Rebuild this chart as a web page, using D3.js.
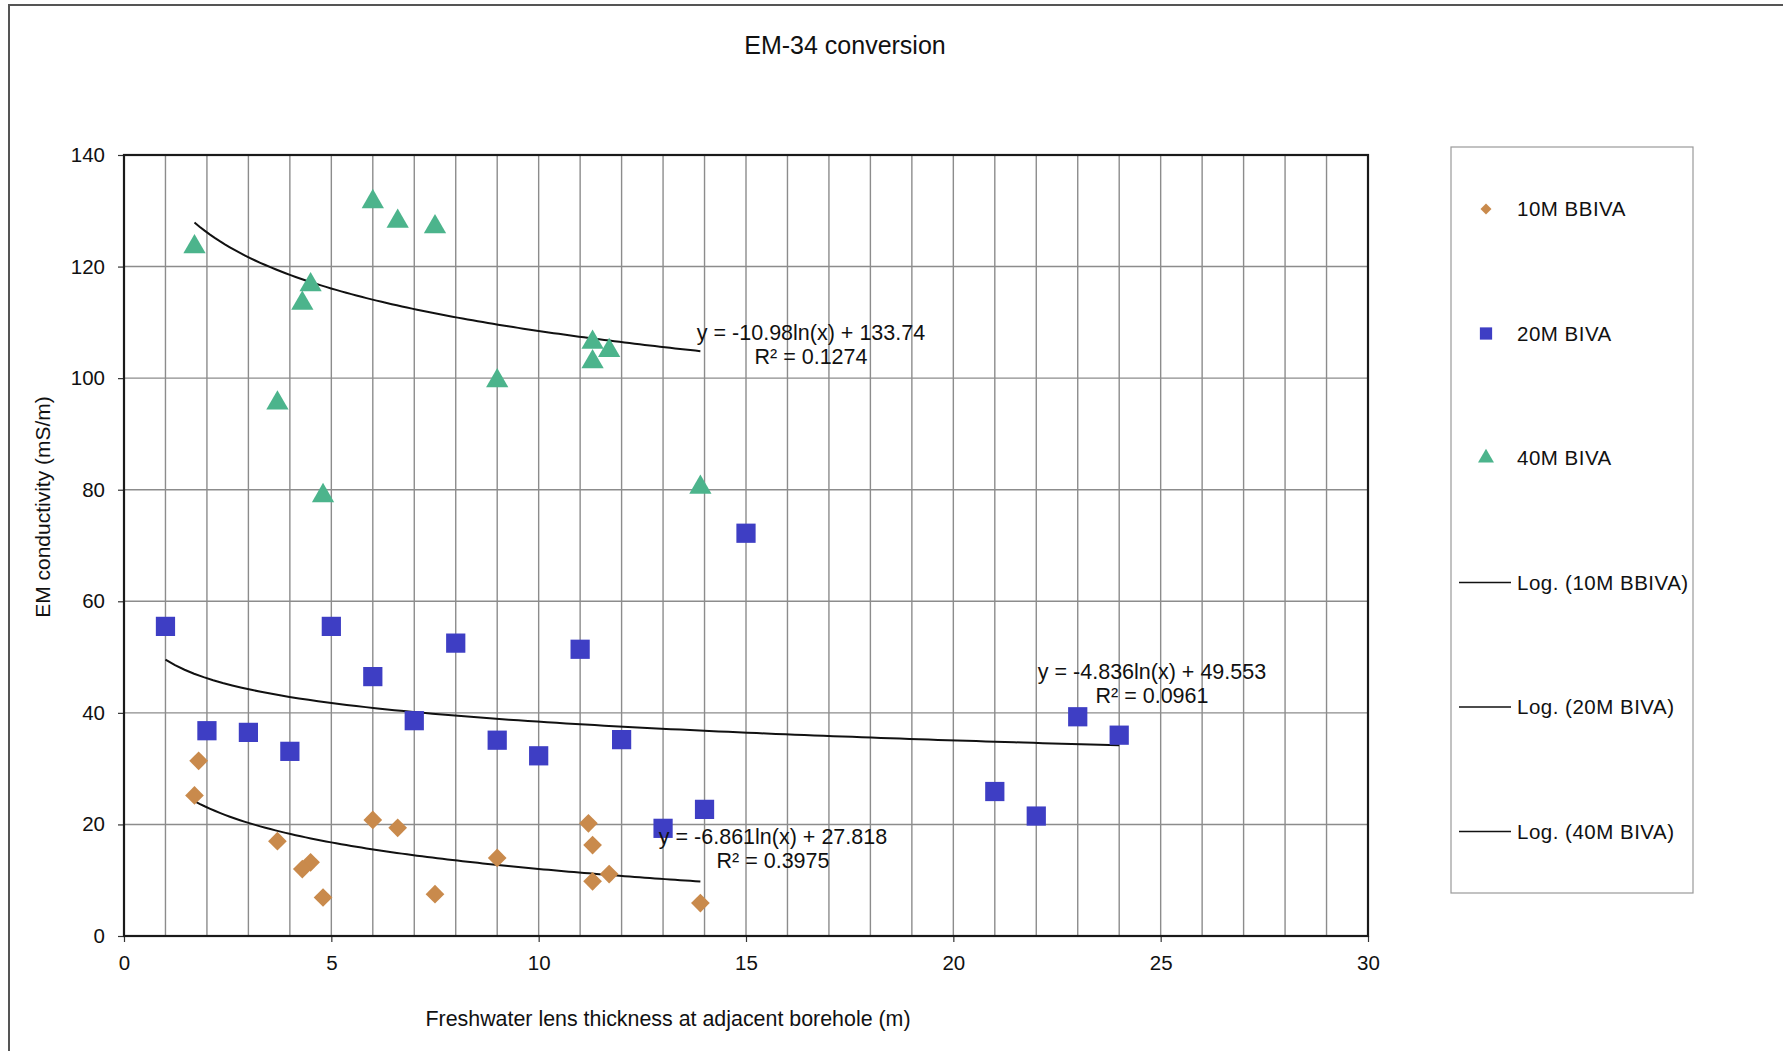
<!DOCTYPE html>
<html>
<head>
<meta charset="utf-8">
<script src="https://cdn.jsdelivr.net/npm/d3@7"></script>
<style>
body { margin: 0; background: #fff; }
svg text { font-family: "Liberation Sans", Arial, sans-serif; fill: #111; }
</style>
</head>
<body>
<div id="chart"></div>
<script>
var width = 1783, height = 1051;
var margin = {left: 124, right: 1368, top: 155, bottom: 936};

// 10M BBIVA
var bbiva10x = [1.8, 1.7, 6, 6.6, 3.7, 4.5, 4.3, 4.8, 7.5, 9, 11.2, 11.3, 11.7, 11.3, 13.9];
var bbiva10y = [31.4, 25.2, 20.8, 19.4, 17.0, 13.2, 12.0, 6.9, 7.5, 14.0, 20.2, 16.3, 11.1, 9.8, 5.9];
// 20M BIVA
var biva20x = [1, 5, 8, 11, 6, 7, 2, 3, 4, 9, 10, 12, 14, 13, 15, 21, 22, 23, 24];
var biva20y = [55.5, 55.5, 52.5, 51.4, 46.5, 38.6, 36.8, 36.5, 33.1, 35.1, 32.3, 35.2, 22.7, 19.3, 72.2, 25.9, 21.5, 39.3, 36.0];
// 40M BIVA
var biva40x = [1.7, 6, 6.6, 7.5, 4.5, 4.3, 3.7, 4.8, 9, 11.3, 11.7, 11.3, 13.9];
var biva40y = [124.1, 132.2, 128.7, 127.7, 117.3, 114.0, 96.1, 79.5, 100.1, 107.0, 105.5, 103.5, 81.0];

// trendline coefficients (a*ln(x) + b) as printed on the chart
var seriesNames = ["10M BBIVA", "20M BIVA", "40M BIVA"];
var trendA = [-6.861, -4.836, -10.98];
var trendB = [27.818, 49.553, 133.74];
var trendR2 = ["0.3975", "0.0961", "0.1274"];

var xTicks = [0, 5, 10, 15, 20, 25, 30];
var yTicks = [0, 20, 40, 60, 80, 100, 120, 140];

var colors = ["#c98a4c", "#3e3ec4", "#4cb48c"];

var svg = d3.select("#chart").append("svg")
	.attr("width", width)
	.attr("height", height);

// outer frame
svg.append("rect")
	.attr("x", 9).attr("y", 5)
	.attr("width", width + 20).attr("height", height + 20)
	.style("fill", "none").style("stroke", "#555").style("stroke-width", 2);

var x = d3.scaleLinear().domain([0, 30]).range([margin.left, margin.right]);
var y = d3.scaleLinear().domain([0, 140]).range([margin.bottom, margin.top]);

// grid
svg.append("g").selectAll("line")
	.data(d3.range(1, 30))
	.enter().append("line")
	.attr("x1", function (d) { return x(d); })
	.attr("x2", function (d) { return x(d); })
	.attr("y1", y(0)).attr("y2", y(140))
	.style("stroke", "#8c8c8c").style("stroke-width", 1.4);

svg.append("g").selectAll("line")
	.data(yTicks.slice(1, -1))
	.enter().append("line")
	.attr("y1", function (d) { return y(d); })
	.attr("y2", function (d) { return y(d); })
	.attr("x1", x(0)).attr("x2", x(30))
	.style("stroke", "#8c8c8c").style("stroke-width", 1.4);

// axes
var xAxis = svg.append("g")
	.attr("transform", "translate(0," + y(0) + ")")
	.call(d3.axisBottom(x).tickValues(xTicks).tickSize(6).tickPadding(13).tickSizeOuter(0));
var yAxis = svg.append("g")
	.attr("transform", "translate(" + x(0) + ",0)")
	.call(d3.axisLeft(y).tickValues(yTicks).tickSize(6).tickPadding(13).tickSizeOuter(0));

[xAxis, yAxis].forEach(function (ax) {
	ax.select(".domain").remove();
	ax.selectAll("line").style("stroke", "#333").style("stroke-width", 1.2);
	ax.selectAll("text").style("font-size", "20.5px").style("fill", "#111")
		.style("font-family", "'Liberation Sans', Arial, sans-serif");
});

svg.append("rect")
	.attr("x", x(0)).attr("y", y(140))
	.attr("width", x(30) - x(0)).attr("height", y(0) - y(140))
	.style("fill", "none").style("stroke", "#1a1a1a").style("stroke-width", 2.2);

// trendlines
var xData = [bbiva10x, biva20x, biva40x];
var line = d3.line()
	.x(function (d) { return x(d[0]); })
	.y(function (d) { return y(d[1]); });

seriesNames.forEach(function (name, i) {
	var lo = d3.min(xData[i]), hi = d3.max(xData[i]);
	var pts = d3.range(0, 101).map(function (k) {
		var xv = lo + (hi - lo) * k / 100;
		return [xv, trendA[i] * Math.log(xv) + trendB[i]];
	});
	svg.append("path")
		.attr("d", line(pts))
		.style("fill", "none").style("stroke", "#111").style("stroke-width", 2);
});

// markers
var diamond = d3.symbol().type(d3.symbolSquare).size(175);
var square = d3.symbol().type(d3.symbolSquare).size(370);
var triSize = 215;
var triangle = d3.symbol().type(d3.symbolTriangle).size(triSize);
var triOff = Math.sqrt(triSize / (Math.sqrt(3) * 3)) / 2;

function pairs(xs, ys) {
	return xs.map(function (v, k) { return [v, ys[k]]; });
}

svg.append("g").selectAll("path")
	.data(pairs(bbiva10x, bbiva10y))
	.enter().append("path")
	.attr("d", diamond)
	.attr("transform", function (d) { return "translate(" + x(d[0]) + "," + y(d[1]) + ") rotate(45)"; })
	.style("fill", colors[0]);

svg.append("g").selectAll("path")
	.data(pairs(biva20x, biva20y))
	.enter().append("path")
	.attr("d", square)
	.attr("transform", function (d) { return "translate(" + x(d[0]) + "," + y(d[1]) + ")"; })
	.style("fill", colors[1]);

svg.append("g").selectAll("path")
	.data(pairs(biva40x, biva40y))
	.enter().append("path")
	.attr("d", triangle)
	.attr("transform", function (d) { return "translate(" + x(d[0]) + "," + (y(d[1]) + triOff) + ")"; })
	.style("fill", colors[2]);

// trendline equations
var eqPos = [[773, 836], [1152, 671], [811, 332]];
seriesNames.forEach(function (name, i) {
	var t = svg.append("text")
		.attr("x", eqPos[i][0]).attr("y", eqPos[i][1])
		.attr("text-anchor", "middle")
		.style("font-size", "21.5px");
	t.append("tspan").attr("x", eqPos[i][0]).attr("dy", "0.35em")
		.text("y = " + trendA[i] + "ln(x) + " + trendB[i]);
	t.append("tspan").attr("x", eqPos[i][0]).attr("dy", "24px")
		.text("R² = " + trendR2[i]);
});

// titles
svg.append("text")
	.attr("x", 845).attr("y", 45).attr("dy", "0.35em")
	.attr("text-anchor", "middle")
	.style("font-size", "25px")
	.text("EM-34 conversion");

svg.append("text")
	.attr("x", 668).attr("y", 1019).attr("dy", "0.35em")
	.attr("text-anchor", "middle")
	.style("font-size", "21.4px")
	.text("Freshwater lens thickness at adjacent borehole (m)");

svg.append("text")
	.attr("transform", "translate(43,507) rotate(-90)")
	.attr("dy", "0.35em")
	.attr("text-anchor", "middle")
	.style("font-size", "21px")
	.text("EM conductivity (mS/m)");

// legend
var legend = svg.append("g");
legend.append("rect")
	.attr("x", 1451).attr("y", 147)
	.attr("width", 242).attr("height", 746)
	.style("fill", "#fff").style("stroke", "#9a9a9a").style("stroke-width", 1.2);

var legendLabels = seriesNames.concat(seriesNames.map(function (n) { return "Log. (" + n + ")"; }));
var legendSyms = [
	d3.symbol().type(d3.symbolSquare).size(60),
	d3.symbol().type(d3.symbolSquare).size(150),
	d3.symbol().type(d3.symbolTriangle).size(110)
];
legend.selectAll("g.item")
	.data(legendLabels)
	.enter().append("g")
	.attr("class", "item")
	.attr("transform", function (d, i) { return "translate(0," + (209 + i * 124.5) + ")"; })
	.each(function (d, i) {
		var g = d3.select(this);
		if (i < 3) {
			g.append("path")
				.attr("d", legendSyms[i])
				.attr("transform", "translate(1486,0)" + (i == 0 ? " rotate(45)" : ""))
				.style("fill", colors[i]);
		} else {
			g.append("line")
				.attr("x1", 1459).attr("x2", 1511)
				.style("stroke", "#111").style("stroke-width", 1.6);
		}
		g.append("text")
			.attr("x", 1517).attr("dy", "0.35em")
			.style("font-size", "20.5px")
			.style("letter-spacing", "0.5px")
			.text(d);
	});
</script>
</body>
</html>
